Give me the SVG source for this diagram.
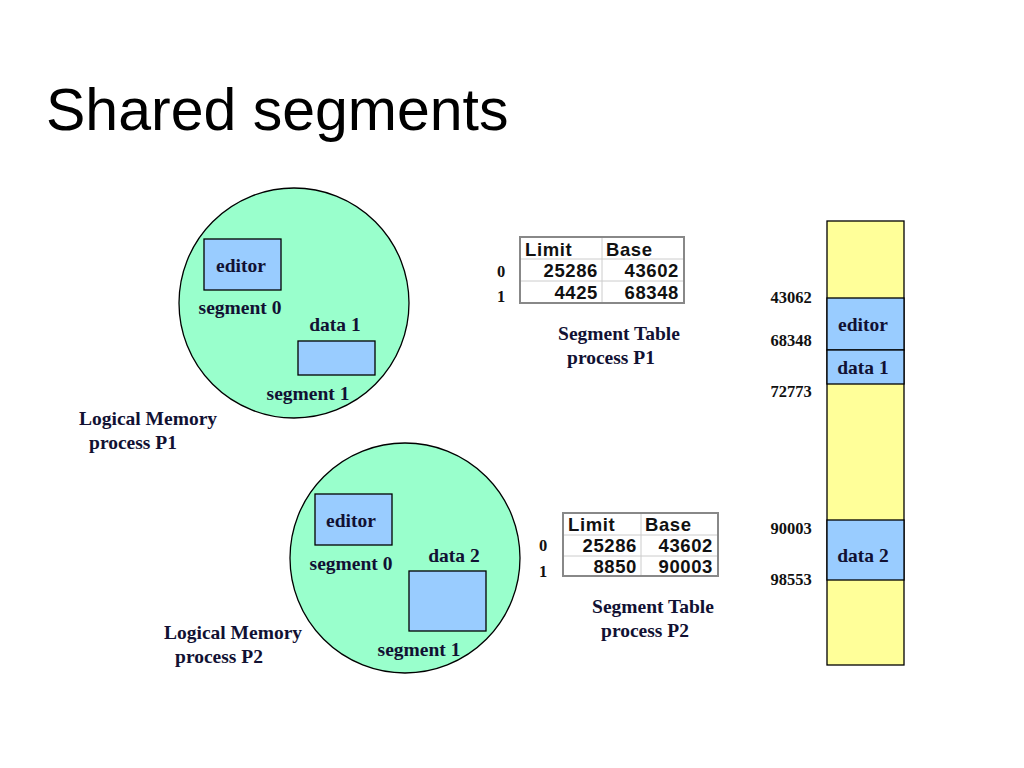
<svg xmlns="http://www.w3.org/2000/svg" width="1024" height="768" viewBox="0 0 1024 768">
<style>
.lbl{font-family:"Liberation Serif",serif;font-weight:bold;font-size:19.5px;fill:#111133}
.num{font-family:"Liberation Serif",serif;font-weight:bold;font-size:16.5px;fill:#111}
.tb{font-family:"Liberation Sans",sans-serif;font-weight:bold;font-size:18.5px;letter-spacing:0.6px;fill:#111}
.circ{fill:#99ffcc;stroke:#000;stroke-width:1.3}
.seg{fill:#99ccff;stroke:#000;stroke-width:1.3}
.mem{fill:#ffff99;stroke:#000;stroke-width:1.3}
.tbl{fill:#fff;stroke:#888;stroke-width:2}
.grid{stroke:#ccc;stroke-width:1}
</style>
<rect width="1024" height="768" fill="#fff"/>
<text x="46" y="130" font-family="Liberation Sans,sans-serif" font-size="59" fill="#000">Shared segments</text>

<g id="p1-memory">
<circle class="circ" cx="294" cy="303" r="115"/>
<rect class="seg" x="204" y="239" width="77" height="51"/>
<text class="lbl" x="241" y="272" text-anchor="middle">editor</text>
<text class="lbl" x="240" y="314" text-anchor="middle">segment 0</text>
<text class="lbl" x="335" y="331" text-anchor="middle">data 1</text>
<rect class="seg" x="298" y="341" width="77" height="34"/>
<text class="lbl" x="308" y="400" text-anchor="middle">segment 1</text>
<text class="lbl" x="148" y="425" text-anchor="middle">Logical Memory</text>
<text class="lbl" x="133" y="449" text-anchor="middle">process P1</text>
</g>

<g id="p2-memory">
<circle class="circ" cx="405" cy="558" r="115"/>
<rect class="seg" x="315" y="494" width="77" height="51"/>
<text class="lbl" x="351" y="527" text-anchor="middle">editor</text>
<text class="lbl" x="351" y="570" text-anchor="middle">segment 0</text>
<text class="lbl" x="454" y="562" text-anchor="middle">data 2</text>
<rect class="seg" x="409" y="571" width="77" height="60"/>
<text class="lbl" x="419" y="656" text-anchor="middle">segment 1</text>
<text class="lbl" x="233" y="639" text-anchor="middle">Logical Memory</text>
<text class="lbl" x="219" y="663" text-anchor="middle">process P2</text>
</g>

<g id="table-p1">
<rect class="tbl" x="520" y="237" width="164" height="66"/>
<line class="grid" x1="602" y1="238" x2="602" y2="302"/>
<line class="grid" x1="521" y1="259" x2="683" y2="259"/>
<line class="grid" x1="521" y1="281" x2="683" y2="281"/>
<text class="tb" x="525" y="256">Limit</text>
<text class="tb" x="606" y="256">Base</text>
<text class="tb" x="598" y="277" text-anchor="end">25286</text>
<text class="tb" x="679" y="277" text-anchor="end">43602</text>
<text class="tb" x="598" y="299" text-anchor="end">4425</text>
<text class="tb" x="679" y="299" text-anchor="end">68348</text>
<text class="num" x="501" y="277" text-anchor="middle">0</text>
<text class="num" x="501" y="302" text-anchor="middle">1</text>
<text class="lbl" x="619" y="340" text-anchor="middle">Segment Table</text>
<text class="lbl" x="611" y="364" text-anchor="middle">process P1</text>
</g>

<g id="table-p2">
<rect class="tbl" x="563" y="513" width="155" height="63"/>
<line class="grid" x1="641" y1="514" x2="641" y2="575"/>
<line class="grid" x1="564" y1="535" x2="717" y2="535"/>
<line class="grid" x1="564" y1="556" x2="717" y2="556"/>
<text class="tb" x="568" y="531">Limit</text>
<text class="tb" x="645" y="531">Base</text>
<text class="tb" x="637" y="552" text-anchor="end">25286</text>
<text class="tb" x="713" y="552" text-anchor="end">43602</text>
<text class="tb" x="637" y="573" text-anchor="end">8850</text>
<text class="tb" x="713" y="573" text-anchor="end">90003</text>
<text class="num" x="543" y="551" text-anchor="middle">0</text>
<text class="num" x="543" y="577" text-anchor="middle">1</text>
<text class="lbl" x="653" y="613" text-anchor="middle">Segment Table</text>
<text class="lbl" x="645" y="637" text-anchor="middle">process P2</text>
</g>

<g id="physical-memory">
<rect class="mem" x="827" y="221" width="77" height="444"/>
<rect class="seg" x="827" y="298" width="77" height="52"/>
<rect class="seg" x="827" y="350" width="77" height="34"/>
<rect class="seg" x="827" y="520" width="77" height="60"/>
<text class="lbl" x="863" y="331" text-anchor="middle">editor</text>
<text class="lbl" x="863" y="374" text-anchor="middle">data 1</text>
<text class="lbl" x="863" y="562" text-anchor="middle">data 2</text>
<text class="num" x="791" y="303" text-anchor="middle">43062</text>
<text class="num" x="791" y="346" text-anchor="middle">68348</text>
<text class="num" x="791" y="397" text-anchor="middle">72773</text>
<text class="num" x="791" y="534" text-anchor="middle">90003</text>
<text class="num" x="791" y="585" text-anchor="middle">98553</text>
</g>
<g id="connectors"></g>
</svg>
